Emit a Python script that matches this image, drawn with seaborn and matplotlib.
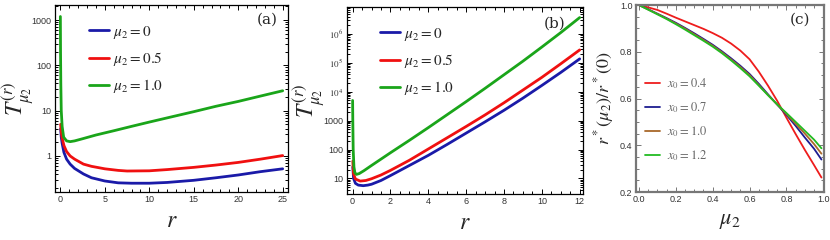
import numpy as np
import pandas as pd
import matplotlib
matplotlib.use("Agg")
import matplotlib.pyplot as plt
import matplotlib.ticker as mticker
import seaborn as sns

sns.set_style("ticks")
plt.rcParams['font.family'] = ['Liberation Sans', 'DejaVu Sans']
plt.rcParams['mathtext.fontset'] = 'stix'

# -------------------- DATOS: panel (a) --------------------
r_a_azul = [0.03, 0.1, 0.2, 0.4, 0.7, 1.1, 1.6, 2.6, 3.5, 5, 6.5, 8, 10, 12, 15, 17.5, 20, 22.5, 25]
T_a_azul = [4.0, 2.6, 1.9, 1.2, 0.85, 0.66, 0.53, 0.40, 0.33, 0.28, 0.255, 0.25, 0.25, 0.26, 0.29, 0.33, 0.38, 0.45, 0.52]
r_a_rojo = [0.03, 0.1, 0.2, 0.4, 0.7, 1.1, 1.6, 2.6, 3.5, 5, 6.5, 7.5, 10, 12, 15, 17.5, 20, 22.5, 25]
T_a_rojo = [5.0, 3.4, 2.5, 1.7, 1.25, 1.0, 0.85, 0.66, 0.59, 0.52, 0.48, 0.465, 0.47, 0.5, 0.56, 0.63, 0.72, 0.85, 1.02]
r_a_verde = [0, 0.02, 0.05, 0.1, 0.2, 0.37, 0.7, 1.1, 1.6, 2.5, 4, 6, 8, 10, 12.5, 15, 17.5, 20, 22.5, 25]
T_a_verde = [1200, 200, 40, 10, 4.5, 2.6, 2.15, 2.07, 2.15, 2.4, 2.9, 3.6, 4.5, 5.6, 7.3, 9.5, 12.5, 16, 21, 27.5]

# -------------------- DATOS: panel (b) (exponentes en base 10) --------------------
r_b_azul = [0.01, 0.05, 0.15, 0.3, 0.56, 0.8, 1, 1.5, 2, 3, 4, 5, 6, 7, 8, 9, 10, 11, 12]
logT_b_azul = [1.4, 1.0, 0.83, 0.77, 0.75, 0.77, 0.8, 0.93, 1.1, 1.45, 1.8, 2.18, 2.57, 2.96, 3.36, 3.78, 4.22, 4.67, 5.14]
r_b_rojo = [0.01, 0.05, 0.15, 0.4, 0.7, 1, 1.5, 2, 3, 4, 5, 6, 7, 8, 9, 10, 11, 12]
logT_b_rojo = [1.6, 1.15, 0.98, 0.91, 0.93, 0.99, 1.12, 1.28, 1.63, 2.02, 2.41, 2.8, 3.2, 3.62, 4.06, 4.5, 4.97, 5.45]
r_b_verde = [0, 0.01, 0.03, 0.07, 0.12, 0.2, 0.35, 0.6, 1, 1.5, 2, 3, 4, 5, 6, 7, 8, 9, 10, 11, 12]
logT_b_verde = [3.7, 3.0, 2.0, 1.4, 1.2, 1.14, 1.17, 1.27, 1.45, 1.67, 1.89, 2.32, 2.76, 3.21, 3.66, 4.12, 4.59, 5.06, 5.55, 6.05, 6.57]

# -------------------- DATOS: panel (c) --------------------
mu2 = [0, 0.05, 0.1, 0.15, 0.2, 0.25, 0.3, 0.35, 0.4, 0.45, 0.5,
       0.55, 0.6, 0.65, 0.7, 0.75, 0.8, 0.85, 0.9, 0.95, 0.99]
c_x04 = [1.0, 0.99, 0.979, 0.963, 0.946, 0.93, 0.914, 0.898, 0.88, 0.86, 0.835,
         0.805, 0.768, 0.715, 0.655, 0.59, 0.518, 0.448, 0.38, 0.315, 0.262]
c_x07 = [1.0, 0.982, 0.963, 0.944, 0.924, 0.902, 0.879, 0.855, 0.83, 0.802, 0.772,
         0.74, 0.705, 0.663, 0.618, 0.574, 0.53, 0.483, 0.433, 0.385, 0.339]
c_x10 = [1.0, 0.981, 0.962, 0.942, 0.921, 0.899, 0.875, 0.851, 0.826, 0.798, 0.767,
         0.735, 0.7, 0.658, 0.615, 0.574, 0.534, 0.492, 0.45, 0.405, 0.364]
c_x12 = [1.0, 0.98, 0.96, 0.94, 0.918, 0.895, 0.871, 0.847, 0.822, 0.794, 0.763,
         0.73, 0.695, 0.655, 0.614, 0.575, 0.538, 0.5, 0.462, 0.424, 0.387]

azul, rojo, verde = '#1a1aa8', '#f01010', '#1aa51a'

fig = plt.figure(figsize=(8.3, 2.4), dpi=100)
ax_a = fig.add_axes([0.0663, 0.2, 0.2807, 0.779])
ax_b = fig.add_axes([0.418, 0.1917, 0.2843, 0.779])
ax_c = fig.add_axes([0.7663, 0.2, 0.2265, 0.779])


def estilo(ax, color_marco='black', ancho=0.9):
    for s in ax.spines.values():
        s.set_color(color_marco)
        s.set_linewidth(ancho)
    ax.tick_params(which='both', direction='in', top=True, right=True,
                   labelsize=6.5, labelcolor='#333333', color=color_marco, width=0.7)
    ax.tick_params(which='major', length=3.5, pad=2.5)
    ax.tick_params(which='minor', length=2)


def etiqueta_y(ax, texto, tam, x):
    ax.set_ylabel(texto, fontsize=tam, va='center')
    ax.yaxis.set_label_coords(x, 0.5)


ley = dict(loc='upper left', frameon=False, fontsize=11, handlelength=1.3,
           handletextpad=0.3, labelspacing=0.6, borderaxespad=0, borderpad=0)

# -------------------- GRÁFICA (a) --------------------
sns.lineplot(x=r_a_azul, y=T_a_azul, ax=ax_a, color=azul, lw=2, label=r'$\mu_2=0$')
sns.lineplot(x=r_a_rojo, y=T_a_rojo, ax=ax_a, color=rojo, lw=2, label=r'$\mu_2=0.5$')
sns.lineplot(x=r_a_verde, y=T_a_verde, ax=ax_a, color=verde, lw=2, label=r'$\mu_2=1.0$')
ax_a.set_yscale('log')
ax_a.set_xlim(-0.6, 25.6)
ax_a.set_ylim(0.16, 2150)
ax_a.set_yticks([1, 10, 100, 1000])
ax_a.yaxis.set_major_formatter(mticker.FuncFormatter(lambda v, p: f'{v:g}'))
ax_a.yaxis.set_minor_formatter(mticker.NullFormatter())
ax_a.set_xticks([0, 5, 10, 15, 20, 25])
ax_a.xaxis.set_minor_locator(mticker.MultipleLocator(1))
ax_a.set_xlabel(r'$r$', fontsize=17, labelpad=4)
etiqueta_y(ax_a, r'$T^{(r)}_{\mu_2}$', 17, -0.16)
ax_a.text(0.91, 0.92, '(a)', transform=ax_a.transAxes, family='DejaVu Serif',
          fontsize=11, ha='center', va='center')
estilo(ax_a)
ax_a.legend(bbox_to_anchor=(0.146, 0.9), **ley)

# -------------------- GRÁFICA (b) --------------------
sns.lineplot(x=r_b_azul, y=10 ** np.array(logT_b_azul), ax=ax_b, color=azul, lw=2, label=r'$\mu_2=0$')
sns.lineplot(x=r_b_rojo, y=10 ** np.array(logT_b_rojo), ax=ax_b, color=rojo, lw=2, label=r'$\mu_2=0.5$')
sns.lineplot(x=r_b_verde, y=10 ** np.array(logT_b_verde), ax=ax_b, color=verde, lw=2, label=r'$\mu_2=1.0$')
ax_b.set_yscale('log')
ax_b.set_xlim(-0.3, 12.17)
ax_b.set_ylim(2.9, 8.6e6)
ax_b.set_yticks([10, 100, 1000, 1e4, 1e5, 1e6])
ax_b.set_yticklabels(['10', '100', '1000', r'$10^4$', r'$10^5$', r'$10^6$'])
ax_b.yaxis.set_minor_formatter(mticker.NullFormatter())
ax_b.set_xticks([0, 2, 4, 6, 8, 10, 12])
ax_b.xaxis.set_minor_locator(mticker.MultipleLocator(0.5))
ax_b.set_xlabel(r'$r$', fontsize=17, labelpad=4)
etiqueta_y(ax_b, r'$T^{(r)}_{\mu_2}$', 17, -0.162)
ax_b.text(0.88, 0.91, '(b)', transform=ax_b.transAxes, family='DejaVu Serif',
          fontsize=11, ha='center', va='center')
estilo(ax_b)
ax_b.legend(bbox_to_anchor=(0.14, 0.9), **ley)

# -------------------- GRÁFICA (c) --------------------
sns.lineplot(x=mu2, y=c_x04, ax=ax_c, color='#ee1c1c', lw=1.3, label=r'$x_0=0.4$')
sns.lineplot(x=mu2, y=c_x07, ax=ax_c, color='#1c1c90', lw=1.3, label=r'$x_0=0.7$')
sns.lineplot(x=mu2, y=c_x10, ax=ax_c, color='#a8682a', lw=1.3, label=r'$x_0=1.0$')
sns.lineplot(x=mu2, y=c_x12, ax=ax_c, color='#22bb22', lw=1.3, label=r'$x_0=1.2$')
ax_c.set_xlim(-0.016, 1.004)
ax_c.set_ylim(0.2, 1.0)
ax_c.set_xticks([0, 0.2, 0.4, 0.6, 0.8, 1.0])
ax_c.set_yticks([0.2, 0.4, 0.6, 0.8, 1.0])
ax_c.xaxis.set_major_formatter(mticker.FormatStrFormatter('%.1f'))
ax_c.yaxis.set_major_formatter(mticker.FormatStrFormatter('%.1f'))
ax_c.xaxis.set_minor_locator(mticker.MultipleLocator(0.05))
ax_c.yaxis.set_minor_locator(mticker.MultipleLocator(0.05))
ax_c.set_xlabel(r'$\mu_2$', fontsize=16, labelpad=4)
etiqueta_y(ax_c, r'$r^*(\mu_2)/r^*(0)$', 13, -0.17)
ax_c.text(0.87, 0.92, '(c)', transform=ax_c.transAxes, family='DejaVu Serif',
          fontsize=11, ha='center', va='center')
estilo(ax_c, color_marco='#777777', ancho=1.6)
leg = ax_c.legend(loc='upper left', bbox_to_anchor=(0.05, 0.62), frameon=False, fontsize=9,
                  handlelength=1.2, handletextpad=0.5, labelspacing=0.75,
                  borderaxespad=0, borderpad=0)
for t in leg.get_texts():
    t.set_color('#666666')

fig.savefig('out.png', dpi=100)
